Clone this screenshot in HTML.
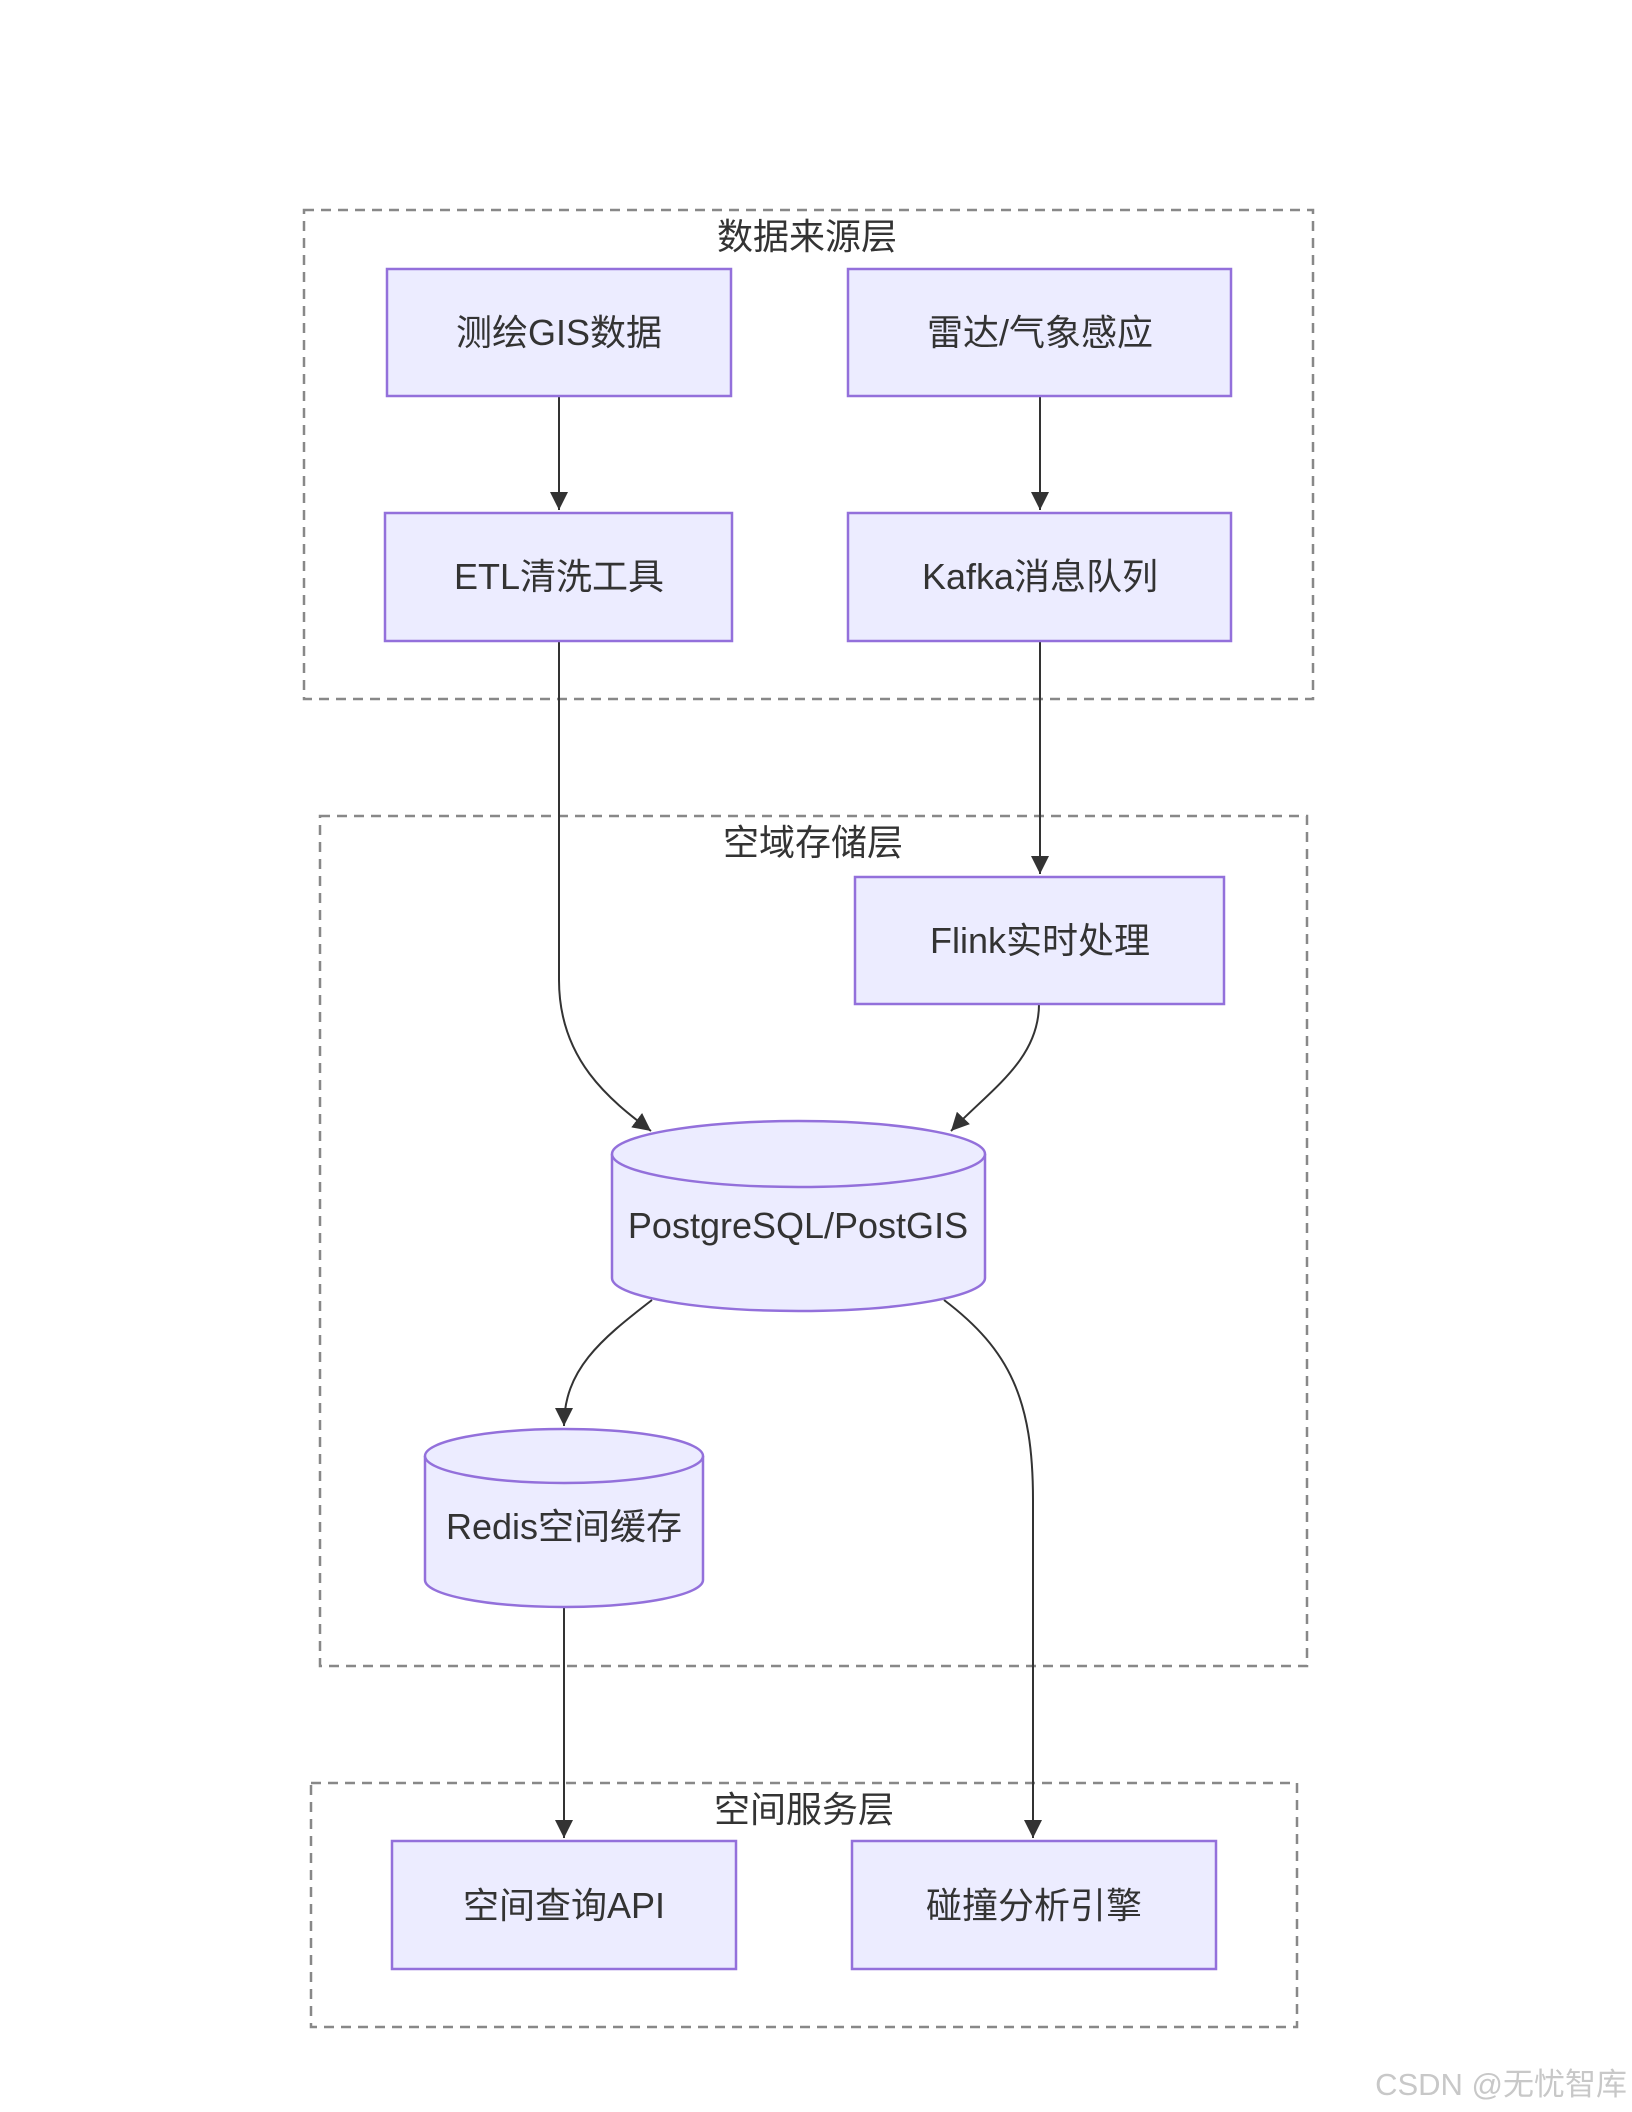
<!DOCTYPE html>
<html><head><meta charset="utf-8"><style>
html,body{margin:0;padding:0;background:#fff;}
svg{display:block;}
text{font-family:"Liberation Sans","Noto Sans CJK SC",sans-serif;fill:#333;}
</style></head><body>
<svg width="1632" height="2112" viewBox="0 0 1632 2112" xmlns="http://www.w3.org/2000/svg">
<defs>
<marker id="ah" viewBox="0 0 10 10" refX="9" refY="5" markerWidth="7" markerHeight="7" orient="auto-start-reverse" markerUnits="userSpaceOnUse">
<path d="M0,0 L10,5 L0,10 z" fill="#333"/></marker>
<marker id="a" viewBox="0 0 10 10" refX="10" refY="5" markerWidth="18" markerHeight="18" orient="auto" markerUnits="userSpaceOnUse">
<path d="M0,0 L10,5 L0,10 z" fill="#333"/></marker>
</defs>
<g fill="none" stroke="#888" stroke-width="2.5" stroke-dasharray="10,7">
<rect x="304" y="210" width="1009" height="489"/>
<rect x="320" y="816" width="987" height="850"/>
<rect x="311" y="1783" width="986" height="244"/>
</g>
<g font-size="36" text-anchor="middle">
<text x="807" y="249">数据来源层</text>
<text x="813" y="855">空域存储层</text>
<text x="804" y="1822">空间服务层</text>
</g>
<g fill="none" stroke="#333" stroke-width="2">
<path d="M559 396 V510" marker-end="url(#a)"/>
<path d="M1040 396 V510" marker-end="url(#a)"/>
<path d="M1040 641 V874" marker-end="url(#a)"/>
<path d="M559 641 V980 C559 1060 610 1100 651 1131" marker-end="url(#a)"/>
<path d="M1039 1004 C1039 1060 990 1090 951 1131" marker-end="url(#a)"/>
<path d="M652 1300 C600 1340 564 1370 564 1426" marker-end="url(#a)"/>
<path d="M944 1300 C1010 1350 1033 1400 1033 1500 V1838" marker-end="url(#a)"/>
<path d="M564 1607 V1838" marker-end="url(#a)"/>
</g>
<g fill="#ECECFF" stroke="#9370DB" stroke-width="2.5">
<rect x="387" y="269" width="344" height="127"/>
<rect x="848" y="269" width="383" height="127"/>
<rect x="385" y="513" width="347" height="128"/>
<rect x="848" y="513" width="383" height="128"/>
<rect x="855" y="877" width="369" height="127"/>
<rect x="392" y="1841" width="344" height="128"/>
<rect x="852" y="1841" width="364" height="128"/>
<path d="M612 1154 A186.5 33 0 0 1 985 1154 V1278 A186.5 33 0 0 1 612 1278 Z"/>
<path d="M612 1154 A186.5 33 0 0 0 985 1154"/>
<path d="M425 1456 A139 27 0 0 1 703 1456 V1580 A139 27 0 0 1 425 1580 Z"/>
<path d="M425 1456 A139 27 0 0 0 703 1456"/>
</g>
<g font-size="36" text-anchor="middle">
<text x="559" y="345">测绘GIS数据</text>
<text x="1040" y="345">雷达/气象感应</text>
<text x="559" y="589">ETL清洗工具</text>
<text x="1040" y="589">Kafka消息队列</text>
<text x="1040" y="953">Flink实时处理</text>
<text x="798" y="1238">PostgreSQL/PostGIS</text>
<text x="564" y="1539">Redis空间缓存</text>
<text x="564" y="1918">空间查询API</text>
<text x="1034" y="1918">碰撞分析引擎</text>
</g>
<text x="1627" y="2095" font-size="31" text-anchor="end" style="fill:#c8c8c8">CSDN @无忧智库</text>
</svg>
</body></html>
